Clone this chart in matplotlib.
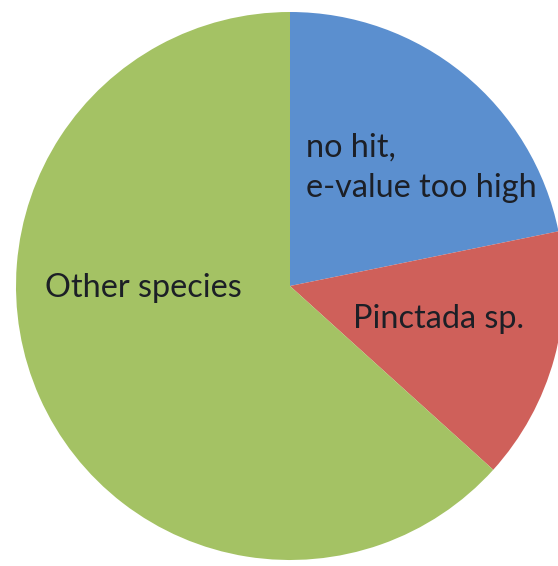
import matplotlib
matplotlib.use("Agg")
import matplotlib.pyplot as plt

# slice data (clockwise from 12 o'clock)
labels = ["no hit,\ne-value too high", "Pinctada sp.", "Other species"]
shares = [21.8, 14.9, 63.3]
colors = ["#5b8fcf", "#cf605a", "#a4c264"]

plt.rcParams["font.family"] = ["Lato", "DejaVu Sans"]

W, H = 558, 566
fig = plt.figure(figsize=(W / 100, H / 100), dpi=100)
ax = fig.add_axes([0, 0, 1, 1])

# pie in pixel coordinates (y axis points down, so clockwise on screen = counterclock here)
ax.pie(shares, colors=colors, startangle=-90, counterclock=True,
       center=(290, 286), radius=274, frame=True,
       wedgeprops=dict(linewidth=0))
ax.set_xlim(0, W)
ax.set_ylim(H, 0)
ax.axis("off")

# labels inside the slices (x, baseline of last line)
positions = [(306, 197), (353, 328), (45, 297)]
line_step = 40
for text, (x, y) in zip(labels, positions):
    lines = text.split("\n")
    for i, line in enumerate(lines):
        yy = y - (len(lines) - 1 - i) * line_step
        ax.text(x, yy, line, fontsize=23.3, color="#1c1f26",
                ha="left", va="baseline")

fig.savefig("out.png", dpi=100, facecolor="white")
